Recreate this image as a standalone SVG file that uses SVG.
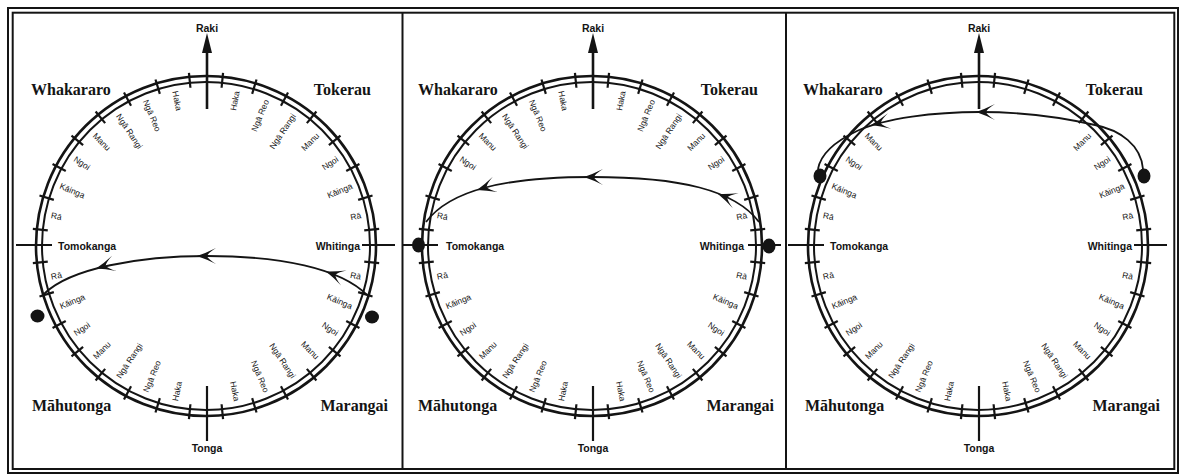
<svg xmlns="http://www.w3.org/2000/svg" width="1180" height="476" viewBox="0 0 1180 476">
<style>
.ln{stroke:#141414;fill:none}
.l{font-family:"Liberation Sans",Arial,sans-serif;font-size:8.5px;fill:#141414;dominant-baseline:central}
.o{text-anchor:end}
.i{text-anchor:start}
.c{font-family:"Liberation Sans",Arial,sans-serif;font-size:10.5px;font-weight:bold;fill:#141414}
.q{font-family:"Liberation Serif","Times New Roman",serif;font-size:16px;font-weight:bold;fill:#141414}
.sp{stroke:#141414;stroke-width:1.8;fill:none}
.dot{fill:#141414}
.ah{fill:#141414}
</style>
<defs>
<line id="tk" x1="0" y1="-159" x2="0" y2="-174" stroke="#141414" stroke-width="2.2"/>
<g id="ticks">
<use href="#tk" transform="rotate(5.625)"/><use href="#tk" transform="rotate(16.875)"/><use href="#tk" transform="rotate(28.125)"/><use href="#tk" transform="rotate(39.375)"/>
<use href="#tk" transform="rotate(50.625)"/><use href="#tk" transform="rotate(61.875)"/><use href="#tk" transform="rotate(73.125)"/><use href="#tk" transform="rotate(84.375)"/>
<use href="#tk" transform="rotate(95.625)"/><use href="#tk" transform="rotate(106.875)"/><use href="#tk" transform="rotate(118.125)"/><use href="#tk" transform="rotate(129.375)"/>
<use href="#tk" transform="rotate(140.625)"/><use href="#tk" transform="rotate(151.875)"/><use href="#tk" transform="rotate(163.125)"/><use href="#tk" transform="rotate(174.375)"/>
<use href="#tk" transform="rotate(185.625)"/><use href="#tk" transform="rotate(196.875)"/><use href="#tk" transform="rotate(208.125)"/><use href="#tk" transform="rotate(219.375)"/>
<use href="#tk" transform="rotate(230.625)"/><use href="#tk" transform="rotate(241.875)"/><use href="#tk" transform="rotate(253.125)"/><use href="#tk" transform="rotate(264.375)"/>
<use href="#tk" transform="rotate(275.625)"/><use href="#tk" transform="rotate(286.875)"/><use href="#tk" transform="rotate(298.125)"/><use href="#tk" transform="rotate(309.375)"/>
<use href="#tk" transform="rotate(320.625)"/><use href="#tk" transform="rotate(331.875)"/><use href="#tk" transform="rotate(343.125)"/><use href="#tk" transform="rotate(354.375)"/>
</g>
<g id="base">
<circle r="170" class="ln" stroke-width="2.6"/>
<circle r="164" class="ln" stroke-width="2"/>
<use href="#ticks"/>
<line x1="1" y1="-137" x2="1" y2="-195" class="ln" stroke-width="2.6"/>
<polygon points="1,-213 -4,-193 6,-193" fill="#141414"/>
<line x1="1" y1="140" x2="1" y2="195" class="ln" stroke-width="2.2"/>
<line x1="-190" y1="-1" x2="-154" y2="-1" class="ln" stroke-width="2.2"/>
<line x1="156" y1="-1" x2="189" y2="-1" class="ln" stroke-width="2.2"/>
</g>
<path id="ah" d="M0,0 Q9,-3 19,-8 Q11,-3 10,0 Q11,3 19,8 Q9,3 0,0 Z"/>
</defs>
<rect width="1180" height="476" fill="#fff"/>
<g id="frame">
<rect x="8" y="8" width="1170" height="465" class="ln" stroke-width="2"/>
<rect x="12.7" y="12.7" width="1161.6" height="456.3" class="ln" stroke-width="2"/>
<line x1="402.5" y1="12.7" x2="402.5" y2="469" class="ln" stroke-width="2"/>
<line x1="786" y1="12.7" x2="786" y2="469" class="ln" stroke-width="2"/>
</g>

<g id="panel1" transform="translate(206,246)">
<use href="#base"/>
<text class="c" x="1" y="-214" text-anchor="middle">Raki</text>
<text class="c" x="1" y="206" text-anchor="middle">Tonga</text>
<text class="c" x="-148" y="3.5">Tomokanga</text>
<text class="c" x="154" y="3.5" text-anchor="end">Whitinga</text>
<text class="q" x="-175" y="-151">Whakararo</text>
<text class="q" x="165" y="-151" text-anchor="end">Tokerau</text>
<text class="q" x="-174" y="165">Māhutonga</text>
<text class="q" x="182" y="165" text-anchor="end">Marangai</text>
<text class="l o" transform="rotate(11.25) translate(0,-158) rotate(-90)">Haka</text>
<text class="l o" transform="rotate(22.5) translate(0,-158) rotate(-90)">Ngā Reo</text>
<text class="l o" transform="rotate(33.75) translate(0,-158) rotate(-90)">Ngā Rangi</text>
<text class="l o" transform="rotate(45) translate(0,-158) rotate(-90)">Manu</text>
<text class="l o" transform="rotate(56.25) translate(0,-158) rotate(-90)">Ngoi</text>
<text class="l o" transform="rotate(67.5) translate(0,-158) rotate(-90)">Kāinga</text>
<text class="l o" transform="rotate(78.75) translate(0,-158) rotate(-90)">Rā</text>
<text class="l o" transform="rotate(101.25) translate(0,-158) rotate(-90)">Rā</text>
<text class="l o" transform="rotate(112.5) translate(0,-158) rotate(-90)">Kāinga</text>
<text class="l o" transform="rotate(123.75) translate(0,-158) rotate(-90)">Ngoi</text>
<text class="l o" transform="rotate(135) translate(0,-158) rotate(-90)">Manu</text>
<text class="l o" transform="rotate(146.25) translate(0,-158) rotate(-90)">Ngā Rangi</text>
<text class="l o" transform="rotate(157.5) translate(0,-158) rotate(-90)">Ngā Reo</text>
<text class="l o" transform="rotate(168.75) translate(0,-158) rotate(-90)">Haka</text>
<text class="l i" transform="rotate(191.25) translate(0,-158) rotate(90)">Haka</text>
<text class="l i" transform="rotate(202.5) translate(0,-158) rotate(90)">Ngā Reo</text>
<text class="l i" transform="rotate(213.75) translate(0,-158) rotate(90)">Ngā Rangi</text>
<text class="l i" transform="rotate(225) translate(0,-158) rotate(90)">Manu</text>
<text class="l i" transform="rotate(236.25) translate(0,-158) rotate(90)">Ngoi</text>
<text class="l i" transform="rotate(247.5) translate(0,-158) rotate(90)">Kāinga</text>
<text class="l i" transform="rotate(258.75) translate(0,-158) rotate(90)">Rā</text>
<text class="l i" transform="rotate(281.25) translate(0,-158) rotate(90)">Rā</text>
<text class="l i" transform="rotate(292.5) translate(0,-158) rotate(90)">Kāinga</text>
<text class="l i" transform="rotate(303.75) translate(0,-158) rotate(90)">Ngoi</text>
<text class="l i" transform="rotate(315) translate(0,-158) rotate(90)">Manu</text>
<text class="l i" transform="rotate(326.25) translate(0,-158) rotate(90)">Ngā Rangi</text>
<text class="l i" transform="rotate(337.5) translate(0,-158) rotate(90)">Ngā Reo</text>
<text class="l i" transform="rotate(348.75) translate(0,-158) rotate(90)">Haka</text>
</g>

<g id="panel2" transform="translate(592,246)">
<use href="#base"/>
<text class="c" x="1" y="-214" text-anchor="middle">Raki</text>
<text class="c" x="1" y="206" text-anchor="middle">Tonga</text>
<text class="c" x="-146" y="3.5">Tomokanga</text>
<text class="c" x="152" y="3.5" text-anchor="end">Whitinga</text>
<text class="q" x="-174" y="-151">Whakararo</text>
<text class="q" x="166" y="-151" text-anchor="end">Tokerau</text>
<text class="q" x="-174" y="165">Māhutonga</text>
<text class="q" x="182" y="165" text-anchor="end">Marangai</text>
<text class="l o" transform="rotate(11.25) translate(0,-158) rotate(-90)">Haka</text>
<text class="l o" transform="rotate(22.5) translate(0,-158) rotate(-90)">Ngā Reo</text>
<text class="l o" transform="rotate(33.75) translate(0,-158) rotate(-90)">Ngā Rangi</text>
<text class="l o" transform="rotate(45) translate(0,-158) rotate(-90)">Manu</text>
<text class="l o" transform="rotate(56.25) translate(0,-158) rotate(-90)">Ngoi</text>
<text class="l o" transform="rotate(78.75) translate(0,-158) rotate(-90)">Rā</text>
<text class="l o" transform="rotate(101.25) translate(0,-158) rotate(-90)">Rā</text>
<text class="l o" transform="rotate(112.5) translate(0,-158) rotate(-90)">Kāinga</text>
<text class="l o" transform="rotate(123.75) translate(0,-158) rotate(-90)">Ngoi</text>
<text class="l o" transform="rotate(135) translate(0,-158) rotate(-90)">Manu</text>
<text class="l o" transform="rotate(146.25) translate(0,-158) rotate(-90)">Ngā Rangi</text>
<text class="l o" transform="rotate(157.5) translate(0,-158) rotate(-90)">Ngā Reo</text>
<text class="l o" transform="rotate(168.75) translate(0,-158) rotate(-90)">Haka</text>
<text class="l i" transform="rotate(191.25) translate(0,-158) rotate(90)">Haka</text>
<text class="l i" transform="rotate(202.5) translate(0,-158) rotate(90)">Ngā Reo</text>
<text class="l i" transform="rotate(213.75) translate(0,-158) rotate(90)">Ngā Rangi</text>
<text class="l i" transform="rotate(225) translate(0,-158) rotate(90)">Manu</text>
<text class="l i" transform="rotate(236.25) translate(0,-158) rotate(90)">Ngoi</text>
<text class="l i" transform="rotate(247.5) translate(0,-158) rotate(90)">Kāinga</text>
<text class="l i" transform="rotate(258.75) translate(0,-158) rotate(90)">Rā</text>
<text class="l i" transform="rotate(281.25) translate(0,-158) rotate(90)">Rā</text>
<text class="l i" transform="rotate(303.75) translate(0,-158) rotate(90)">Ngoi</text>
<text class="l i" transform="rotate(315) translate(0,-158) rotate(90)">Manu</text>
<text class="l i" transform="rotate(326.25) translate(0,-158) rotate(90)">Ngā Rangi</text>
<text class="l i" transform="rotate(337.5) translate(0,-158) rotate(90)">Ngā Reo</text>
<text class="l i" transform="rotate(348.75) translate(0,-158) rotate(90)">Haka</text>
</g>

<g id="panel3" transform="translate(978,246)">
<use href="#base"/>
<text class="c" x="1" y="-214" text-anchor="middle">Raki</text>
<text class="c" x="1" y="206" text-anchor="middle">Tonga</text>
<text class="c" x="-148" y="3.5">Tomokanga</text>
<text class="c" x="154" y="3.5" text-anchor="end">Whitinga</text>
<text class="q" x="-175" y="-151">Whakararo</text>
<text class="q" x="165" y="-151" text-anchor="end">Tokerau</text>
<text class="q" x="-173" y="165">Māhutonga</text>
<text class="q" x="182" y="165" text-anchor="end">Marangai</text>
<text class="l o" transform="rotate(45) translate(0,-158) rotate(-90)">Manu</text>
<text class="l o" transform="rotate(56.25) translate(0,-158) rotate(-90)">Ngoi</text>
<text class="l o" transform="rotate(67.5) translate(0,-158) rotate(-90)">Kāinga</text>
<text class="l o" transform="rotate(78.75) translate(0,-158) rotate(-90)">Rā</text>
<text class="l o" transform="rotate(101.25) translate(0,-158) rotate(-90)">Rā</text>
<text class="l o" transform="rotate(112.5) translate(0,-158) rotate(-90)">Kāinga</text>
<text class="l o" transform="rotate(123.75) translate(0,-158) rotate(-90)">Ngoi</text>
<text class="l o" transform="rotate(135) translate(0,-158) rotate(-90)">Manu</text>
<text class="l o" transform="rotate(146.25) translate(0,-158) rotate(-90)">Ngā Rangi</text>
<text class="l o" transform="rotate(157.5) translate(0,-158) rotate(-90)">Ngā Reo</text>
<text class="l o" transform="rotate(168.75) translate(0,-158) rotate(-90)">Haka</text>
<text class="l i" transform="rotate(191.25) translate(0,-158) rotate(90)">Haka</text>
<text class="l i" transform="rotate(202.5) translate(0,-158) rotate(90)">Ngā Reo</text>
<text class="l i" transform="rotate(213.75) translate(0,-158) rotate(90)">Ngā Rangi</text>
<text class="l i" transform="rotate(225) translate(0,-158) rotate(90)">Manu</text>
<text class="l i" transform="rotate(236.25) translate(0,-158) rotate(90)">Ngoi</text>
<text class="l i" transform="rotate(247.5) translate(0,-158) rotate(90)">Kāinga</text>
<text class="l i" transform="rotate(258.75) translate(0,-158) rotate(90)">Rā</text>
<text class="l i" transform="rotate(281.25) translate(0,-158) rotate(90)">Rā</text>
<text class="l i" transform="rotate(292.5) translate(0,-158) rotate(90)">Kāinga</text>
<text class="l i" transform="rotate(303.75) translate(0,-158) rotate(90)">Ngoi</text>
<text class="l i" transform="rotate(315) translate(0,-158) rotate(90)">Manu</text>
</g>

<g id="connectors">
<path class="sp" d="M367,295 C340,268 280,256 207,256 C140,256 70,268 44,294"/>
<use href="#ah" class="ah" transform="translate(326,271.5) rotate(20)"/>
<use href="#ah" class="ah" transform="translate(197,256) rotate(0)"/>
<use href="#ah" class="ah" transform="translate(96,268.6) rotate(-16)"/>
<ellipse class="dot" cx="37.5" cy="316" rx="7" ry="6.5"/>
<ellipse class="dot" cx="372" cy="317" rx="7" ry="6.5"/>

<path class="sp" d="M759,222 C735,190 680,177 592,177 C505,177 450,190 426,222"/>
<use href="#ah" class="ah" transform="translate(718,194) rotate(21)"/>
<use href="#ah" class="ah" transform="translate(584,177) rotate(0)"/>
<use href="#ah" class="ah" transform="translate(477,190) rotate(-17)"/>
<ellipse class="dot" cx="418.5" cy="245" rx="6.5" ry="7.5"/>
<ellipse class="dot" cx="769" cy="246" rx="6.5" ry="7.5"/>

<path class="sp" d="M1143,169 C1141,145 1120,130 1095,125 C1060,117 1025,112 980,112 C935,112 885,118 857,131 C838,140 821,152 818,169"/>
<use href="#ah" class="ah" transform="translate(976,112) rotate(0)"/>
<use href="#ah" class="ah" transform="translate(871,125) rotate(-12)"/>
<ellipse class="dot" cx="820" cy="176" rx="6.5" ry="7.5"/>
<ellipse class="dot" cx="1144" cy="176" rx="6.5" ry="7.5"/>
</g>
</svg>
